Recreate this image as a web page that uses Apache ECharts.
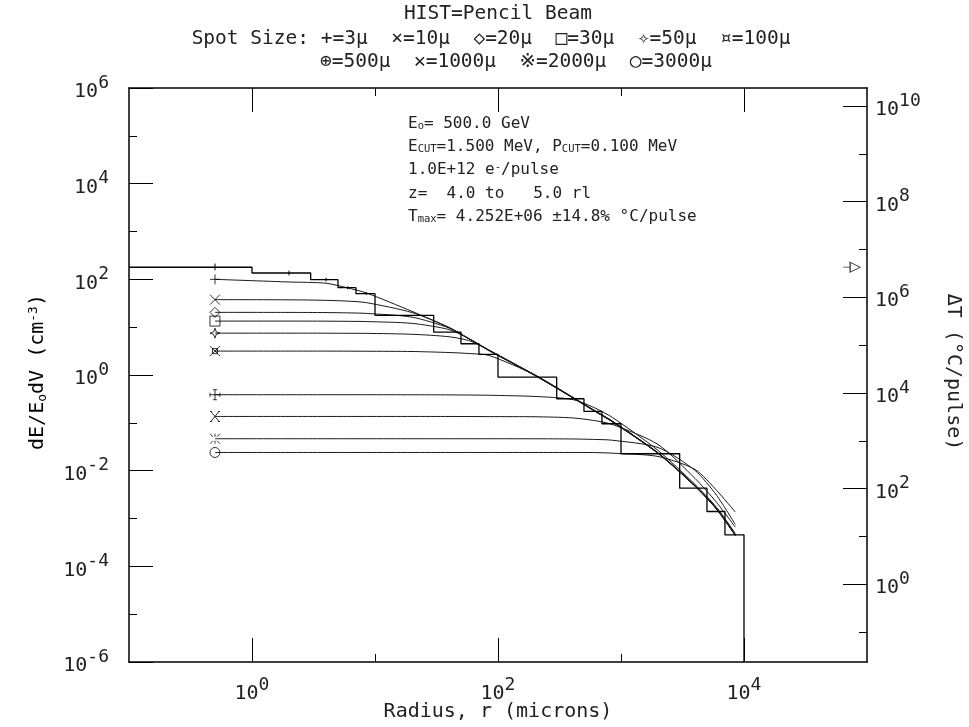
<!DOCTYPE html>
<html><head><meta charset="utf-8">
<script src="https://cdn.jsdelivr.net/npm/echarts@6/dist/echarts.min.js"></script>
<style>html,body{margin:0;padding:0;background:#fff}#c{width:969px;height:727px}</style>
</head><body><div id="c"></div>
<script>
// ---------------- data ----------------
const binEdges = [0, 1, 3, 5, 7, 10, 30, 50, 70, 100, 300, 500, 700, 1000, 3000, 5000, 7000, 10000];
const histValues = [179, 135.5, 98.6, 67, 50.2, 17.7, 7.9, 4.5, 2.7, 0.9, 0.319, 0.173, 0.0957, 0.0226, 0.0043, 0.0014, 0.000456];
const errCenters = [0.5, 2, 4, 6, 8.5];
const errLow = [154, 121, 90, 62, 47];
const errHigh = [214, 152, 108, 72, 54];

const radiusCenters = [0.5, 2, 4, 6, 8.5, 20, 40, 60, 85, 200, 400, 600, 850, 2000, 4000, 6000, 8500];
const spot3    = [100, 88, 83, 66, 52, 21.4, 9.8, 5.4, 3.2, 0.97, 0.34, 0.18, 0.105, 0.0229, 0.0047, 0.00155, 0.00044];
const spot10   = [37.6, 37.3, 36.4, 35, 32.6, 20.2, 9.9, 5.45, 3.22, 0.98, 0.342, 0.181, 0.106, 0.0231, 0.00474, 0.00156, 0.000445];
const spot20   = [20.4, 20.35, 20.2, 19.9, 19.4, 16.2, 9.6, 5.5, 3.25, 0.985, 0.344, 0.182, 0.1065, 0.0232, 0.00476, 0.00157, 0.000448];
const spot30   = [13.4, 13.4, 13.35, 13.25, 13.1, 12.0, 8.9, 5.5, 3.27, 0.99, 0.346, 0.183, 0.107, 0.0233, 0.00479, 0.00158, 0.00045];
const spot50   = [7.5, 7.5, 7.48, 7.45, 7.42, 7.1, 6.3, 5.1, 3.3, 1.0, 0.348, 0.184, 0.108, 0.0235, 0.00482, 0.00159, 0.000455];
const spot100  = [3.16, 3.16, 3.16, 3.15, 3.14, 3.1, 2.95, 2.8, 2.55, 1.0, 0.35, 0.186, 0.109, 0.0237, 0.00486, 0.0016, 0.00046];
const spot500  = [0.387, 0.387, 0.387, 0.387, 0.387, 0.386, 0.384, 0.381, 0.377, 0.356, 0.309, 0.21, 0.13, 0.0265, 0.00514, 0.0017, 0.000485];
const spot1000 = [0.136, 0.136, 0.136, 0.136, 0.136, 0.136, 0.1358, 0.1355, 0.135, 0.134, 0.127, 0.112, 0.0926, 0.0353, 0.00687, 0.00216, 0.000658];
const spot2000 = [0.0465, 0.0465, 0.0465, 0.0465, 0.0465, 0.0465, 0.0465, 0.0465, 0.0465, 0.0464, 0.046, 0.045, 0.0433, 0.0305, 0.0101, 0.00303, 0.000748];
const spot3000 = [0.024, 0.024, 0.024, 0.024, 0.024, 0.024, 0.024, 0.024, 0.024, 0.024, 0.024, 0.0239, 0.0232, 0.0198, 0.0106, 0.00386, 0.00136];
const spotLabels = ['3', '10', '20', '30', '50', '100', '500', '1000', '2000', '3000'];

const tMax = 4.252e6;        // peak ΔT (°C/pulse)
const tMaxRadius = 75000;    // where the ΔT marker sits, next to the right axis

const xMajorTicks = [1, 100, 10000];
const xMinorTicks = [10, 1000];
const yMajorTicks = [1e-6, 1e-4, 1e-2, 1, 1e2, 1e4, 1e6];
const yMinorTicks = [1e-5, 1e-3, 1e-1, 10, 1e3, 1e5];
const tMajorTicks = [1, 1e2, 1e4, 1e6, 1e8, 1e10];
const tMinorTicks = [1e-1, 10, 1e3, 1e5, 1e7, 1e9];

// ---------------- layout / style ----------------
const FONT = "'DejaVu Sans Mono', 'DejaVu Sans', 'Noto Sans CJK JP', monospace";
const INK = '#222';
const tAxisMin = Math.pow(10, -1.625), tAxisMax = Math.pow(10, 10.375);

const markerPaths = [
  'path://M0,5L10,5M5,0L5,10',
  'path://M0,0L10,10M10,0L0,10',
  'path://M5,0L10,5L5,10L0,5Z',
  'path://M0,0L10,0L10,10L0,10Z',
  'path://M5,0L6.3,3.7L10,5L6.3,6.3L5,10L3.7,6.3L0,5L3.7,3.7Z',
  'path://M0,0L10,10M10,0L0,10M2.5,2.5L7.5,2.5L7.5,7.5L2.5,7.5Z',
  'path://M5,0L5,10M3,0L7,0M3,10L7,10M0,5L10,5M0,3L0,7M10,3L10,7',
  'path://M1,1L9,9M9,1L1,9M0,1L2,1M8,1L10,1M0,9L2,9M8,9L10,9',
  'path://M0,0L3,3M7,7L10,10M10,0L7,3M3,7L0,10M5,0L5,3M5,7L5,10',
  'circle'
];

const curves = [spot3, spot10, spot20, spot30, spot50, spot100, spot500, spot1000, spot2000, spot3000];

function expLabel(v) {
  const e = Math.round(Math.log10(v));
  return '{b|10}{s|' + e + '}';
}
const tickRich = {
  b: {fontFamily: FONT, fontSize: 20, lineHeight: 28, verticalAlign: 'bottom', color: INK},
  s: {fontFamily: FONT, fontSize: 18, lineHeight: 28, verticalAlign: 'top', color: INK}
};
const frameLine = {show: true, lineStyle: {color: '#000', width: 1.5}};

function logX(opts) {
  return Object.assign({type: 'log', logBase: 10, min: 0.1, max: 1e5, gridIndex: 0,
    splitLine: {show: false}, axisLabel: {show: false}, axisLine: {show: false}}, opts);
}
function logY(opts) {
  return Object.assign({type: 'log', logBase: 10, min: 1e-6, max: 1e6, gridIndex: 0,
    splitLine: {show: false}, axisLabel: {show: false}, axisLine: {show: false}}, opts);
}

// histogram outline
const histData = [];
binEdges.slice(0, -1).forEach((lo, i) => {
  histData.push([lo === 0 ? 0.1 : lo, histValues[i]]);
  histData.push([binEdges[i + 1], histValues[i]]);
});
histData.push([binEdges[binEdges.length - 1], 1e-6]);

const series = [];
series.push({
  type: 'line', name: 'HIST', data: histData, xAxisIndex: 0, yAxisIndex: 0,
  symbol: 'none', lineStyle: {color: '#000', width: 1.3}, z: 4, clip: true
});
series.push({
  type: 'custom', xAxisIndex: 0, yAxisIndex: 0, z: 4,
  data: errCenters.map((c, i) => [c, errLow[i], errHigh[i]]),
  encode: {x: 0, y: [1, 2]},
  renderItem: (params, api) => {
    const p1 = api.coord([api.value(0), api.value(1)]);
    const p2 = api.coord([api.value(0), api.value(2)]);
    return {type: 'line', shape: {x1: p1[0], y1: p1[1], x2: p2[0], y2: p2[1]},
      style: {stroke: '#000', lineWidth: 1}};
  }
});
curves.forEach((vals, k) => {
  series.push({
    type: 'line', name: spotLabels[k] + 'μ', xAxisIndex: 0, yAxisIndex: 0,
    data: radiusCenters.map((r, i) => [r, vals[i]]),
    smooth: 0.25, symbol: 'none',
    lineStyle: {color: '#1a1a1a', width: 1}, z: 3
  });
});
series.push({
  type: 'scatter', xAxisIndex: 0, yAxisIndex: 0, z: 5,
  data: curves.map((vals, k) => ({value: [radiusCenters[0], vals[0]], symbol: markerPaths[k]})),
  symbolSize: 10,
  itemStyle: {color: 'rgba(0,0,0,0)', borderColor: '#000', borderWidth: 1}
});
series.push({
  type: 'scatter', xAxisIndex: 0, yAxisIndex: 2, z: 5,
  data: [[tMaxRadius, tMax]],
  symbol: 'path://M0,5L7,5M7,0L17,5L7,10Z', symbolSize: [17, 10],
  itemStyle: {color: 'rgba(0,0,0,0)', borderColor: '#000', borderWidth: 1}
});

const option = {
  animation: false,
  backgroundColor: '#fff',
  grid: {left: 129, top: 88, width: 738, height: 574, containLabel: false},
  xAxis: [
    logX({position: 'bottom', axisLine: frameLine,
      axisTick: {show: true, inside: true, length: 24, customValues: xMajorTicks, lineStyle: {color: '#000', width: 1}},
      axisLabel: {show: true, customValues: xMajorTicks, formatter: expLabel, rich: tickRich, margin: 14}}),
    logX({position: 'bottom',
      axisTick: {show: true, inside: true, length: 8, customValues: xMinorTicks, lineStyle: {color: '#000', width: 1}}}),
    logX({position: 'top', axisLine: frameLine,
      axisTick: {show: true, inside: true, length: 24, customValues: xMajorTicks, lineStyle: {color: '#000', width: 1}}}),
    logX({position: 'top',
      axisTick: {show: true, inside: true, length: 8, customValues: xMinorTicks, lineStyle: {color: '#000', width: 1}}})
  ],
  yAxis: [
    logY({position: 'left', axisLine: frameLine,
      axisTick: {show: true, inside: true, length: 24, customValues: yMajorTicks, lineStyle: {color: '#000', width: 1}},
      axisLabel: {show: true, customValues: yMajorTicks, formatter: expLabel, rich: tickRich, margin: 20}}),
    logY({position: 'left',
      axisTick: {show: true, inside: true, length: 8, customValues: yMinorTicks, lineStyle: {color: '#000', width: 1}}}),
    logY({position: 'right', min: tAxisMin, max: tAxisMax, axisLine: frameLine,
      axisTick: {show: true, inside: true, length: 24, customValues: tMajorTicks, lineStyle: {color: '#000', width: 1}},
      axisLabel: {show: true, customValues: tMajorTicks, formatter: expLabel, rich: tickRich, margin: 8}}),
    logY({position: 'right', min: tAxisMin, max: tAxisMax,
      axisTick: {show: true, inside: true, length: 8, customValues: tMinorTicks, lineStyle: {color: '#000', width: 1}}})
  ],
  graphic: {elements: [
    {type: 'text', x: 498, y: 13.5, style: {text: 'HIST=Pencil Beam', font: '19.5px ' + FONT, fill: INK, align: 'center', verticalAlign: 'middle'}},
    {type: 'text', x: 491, y: 38.5, style: {text: 'Spot Size: +=3μ  ×=10μ  ◇=20μ  □=30μ  ✧=50μ  ¤=100μ', font: '19.5px ' + FONT, fill: INK, align: 'center', verticalAlign: 'middle'}},
    {type: 'text', x: 516, y: 62, style: {text: '⊕=500μ  ✕=1000μ  ※=2000μ  ○=3000μ', font: '19.5px ' + FONT, fill: INK, align: 'center', verticalAlign: 'middle'}},
    ...[
      ['{t|E}{sub|o}{t|= 500.0 GeV}', 123.7],
      ['{t|E}{sub|CUT}{t|=1.500 MeV, P}{sub|CUT}{t|=0.100 MeV}', 147],
      ['{t|1.0E+12 e}{sup|-}{t|/pulse}', 170.3],
      ['{t|z=  4.0 to   5.0 rl}', 193.5],
      ['{t|T}{sub|max}{t|= 4.252E+06 ±14.8% °C/pulse}', 216.6]
    ].map(([txt, yy]) => ({type: 'text', x: 408, y: yy, style: {
      text: txt, align: 'left', verticalAlign: 'middle', fill: INK,
      rich: {
        t: {fontFamily: FONT, fontSize: 16, lineHeight: 16, color: INK},
        sub: {fontFamily: FONT, fontSize: 10.5, lineHeight: 10, verticalAlign: 'bottom', color: INK},
        sup: {fontFamily: FONT, fontSize: 10.5, lineHeight: 10, verticalAlign: 'top', color: INK}
      }}})),
    {type: 'text', x: 498, y: 712, style: {text: 'Radius, r (microns)', font: '20px ' + FONT, fill: INK, align: 'center', verticalAlign: 'middle'}},
    {type: 'text', x: 38, y: 372, rotation: Math.PI / 2, style: {
      text: '{t|dE/E}{sub|o}{t|dV (cm}{sup|-3}{t|)}', align: 'center', verticalAlign: 'middle',
      rich: {
        t: {fontFamily: FONT, fontSize: 20, lineHeight: 22, color: INK},
        sub: {fontFamily: FONT, fontSize: 13, lineHeight: 13, verticalAlign: 'bottom', color: INK},
        sup: {fontFamily: FONT, fontSize: 13, lineHeight: 13, verticalAlign: 'top', color: INK}
      }}},
    {type: 'text', x: 953, y: 372, rotation: -Math.PI / 2, style: {text: 'ΔT (°C/pulse)', font: '20px ' + FONT, fill: INK, align: 'center', verticalAlign: 'middle'}}
  ]},
  series: series
};

const chart = echarts.init(document.getElementById('c'), null, {renderer: 'canvas'});
chart.setOption(option);
</script>
</body></html>
